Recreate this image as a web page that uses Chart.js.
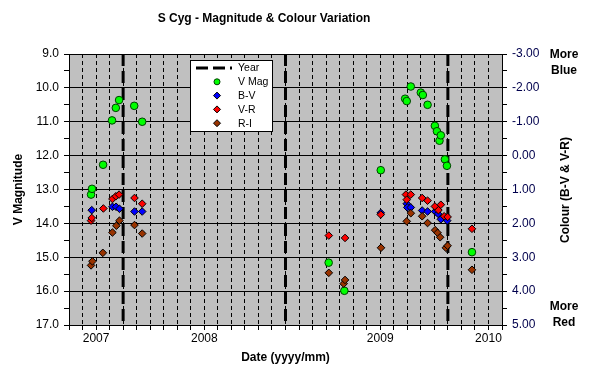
<!DOCTYPE html>
<html>
<head>
<meta charset="utf-8">
<script src="https://cdn.jsdelivr.net/npm/chart.js@4.4.0/dist/chart.umd.min.js"></script>
<style>
  html, body { margin: 0; padding: 0; background: #fff; }
  canvas { display: block; }
</style>
</head>
<body>
<canvas id="chart" width="592" height="375"></canvas>
<script>
// x values are months counted from Sep 2007 (0) to May 2010 (32)
const yearLines = [4, 16, 28];
const yearLabelPos = [2, 10, 23, 31];
const yearLabelText = ["2007", "2008", "2009", "2010"];

const vMagDate = [1.63, 1.70, 2.52, 3.18, 3.46, 3.70, 4.82, 5.41, 19.19, 20.35,
    23.04, 24.84, 24.96, 25.26, 26.00, 26.15, 26.50, 27.04, 27.19, 27.38, 27.48, 27.78, 27.93, 29.78];
const vMag = [13.15, 12.98, 12.27, 10.96, 10.59, 10.36, 10.53, 11.00, 15.16, 15.99,
    12.43, 10.32, 10.39, 9.96, 10.14, 10.21, 10.50, 11.12, 11.28, 11.56, 11.40, 12.11, 12.30, 14.85];

const bvDate = [1.68, 3.21, 3.48, 3.73, 4.84, 5.41, 23.04, 24.96, 25.00, 25.26,
    26.10, 26.50, 27.06, 27.28, 27.48, 27.95];
const bv = [1.61, 1.51, 1.51, 1.57, 1.65, 1.65, 1.69, 1.42, 1.53, 1.53,
    1.62, 1.65, 1.65, 1.72, 1.88, 1.92];

const vrDate = [1.63, 1.68, 2.54, 3.21, 3.46, 3.70, 4.84, 5.41, 19.20, 20.40, 23.04,
    24.90, 24.96, 25.26, 26.10, 26.50, 27.04, 27.30, 27.48, 27.73, 27.98, 29.78];
const vr = [1.92, 1.84, 1.56, 1.28, 1.20, 1.15, 1.25, 1.42, 2.36, 2.43, 1.74,
    1.15, 1.30, 1.15, 1.25, 1.33, 1.50, 1.61, 1.45, 1.79, 1.81, 2.16];

const riDate = [1.63, 1.73, 2.50, 3.21, 3.50, 3.73, 4.84, 5.41, 19.20, 20.30, 20.40, 23.06,
    24.96, 25.26, 26.10, 26.50, 27.06, 27.24, 27.43, 27.85, 27.98, 29.78];
const ri = [3.24, 3.12, 2.87, 2.27, 2.07, 1.92, 2.05, 2.30, 3.46, 3.78, 3.67, 2.72,
    1.94, 1.70, 1.79, 1.99, 2.20, 2.28, 2.41, 2.72, 2.66, 3.37];

const FONT = "'Liberation Sans', Arial, sans-serif";

const pts = (xs, ys) => xs.map((x, i) => ({ x: x, y: ys[i] }));

// vertical year lines, broken apart by null points
const yearData = [];
yearLines.forEach(x => {
    yearData.push({ x: x, y: 9 }, { x: x, y: 17 }, { x: x, y: null });
});

const diamond = (label, color, xs, ys, order) => ({
    label: label,
    data: pts(xs, ys),
    yAxisID: "y2",
    pointStyle: "rectRot",
    pointRadius: 3.8,
    pointHoverRadius: 3.8,
    pointBackgroundColor: color,
    pointBorderColor: "#000",
    pointBorderWidth: 1,
    order: order
});

const decor = {
    id: "decor",
    beforeDraw(chart) {
        const { ctx, chartArea: a } = chart;
        ctx.save();
        ctx.fillStyle = "#fff";
        ctx.fillRect(0, 0, chart.width, chart.height);
        ctx.fillStyle = "#c0c0c0";
        ctx.fillRect(a.left, a.top, a.right - a.left, a.bottom - a.top);
        ctx.restore();
    },
    afterDraw(chart) {
        const ctx = chart.ctx;
        ctx.save();
        ctx.fillStyle = "#000";
        ctx.textAlign = "center";
        ctx.textBaseline = "middle";

        // title
        ctx.font = "bold 12px " + FONT;
        ctx.fillText("S Cyg - Magnitude & Colour Variation", 264, 19);

        // right side notes
        ctx.fillText("More", 564, 55);
        ctx.fillText("Blue", 564, 71);
        ctx.fillText("More", 564, 307);
        ctx.fillText("Red", 564, 323);

        // right axis title, reading upwards
        ctx.save();
        ctx.translate(566, 190);
        ctx.rotate(-Math.PI / 2);
        ctx.fillText("Colour (B-V & V-R)", 0, 0);
        ctx.restore();

        // legend box
        ctx.fillStyle = "#fff";
        ctx.fillRect(190, 60, 82, 71);
        ctx.strokeStyle = "#000";
        ctx.lineWidth = 1;
        ctx.strokeRect(190.5, 60.5, 82, 71);

        ctx.font = "10.5px " + FONT;
        ctx.textAlign = "left";
        chart.data.datasets.forEach((ds, i) => {
            const y = 68 + i * 13.8;
            if (ds.showLine) {
                ctx.save();
                ctx.strokeStyle = ds.borderColor;
                ctx.lineWidth = ds.borderWidth;
                ctx.setLineDash(ds.borderDash);
                ctx.beginPath();
                ctx.moveTo(196, y);
                ctx.lineTo(232, y);
                ctx.stroke();
                ctx.restore();
            } else {
                ctx.fillStyle = ds.pointBackgroundColor;
                ctx.strokeStyle = ds.pointBorderColor;
                ctx.beginPath();
                if (ds.pointStyle === "circle") {
                    ctx.arc(217, y, 3, 0, Math.PI * 2);
                } else {
                    ctx.moveTo(217, y - 3.5);
                    ctx.lineTo(220.5, y);
                    ctx.lineTo(217, y + 3.5);
                    ctx.lineTo(213.5, y);
                    ctx.closePath();
                }
                ctx.fill();
                ctx.stroke();
            }
            ctx.fillStyle = "#000";
            ctx.fillText(ds.label, 238, y + 0.5);
        });
        ctx.restore();
    }
};

new Chart(document.getElementById("chart"), {
    type: "scatter",
    data: {
        datasets: [
            {
                label: "Year",
                data: yearData,
                showLine: true,
                spanGaps: false,
                borderColor: "#000",
                borderWidth: 3,
                borderDash: [12, 5],
                pointRadius: 0,
                pointHoverRadius: 0,
                order: 4
            },
            {
                label: "V Mag",
                data: pts(vMagDate, vMag),
                pointStyle: "circle",
                pointRadius: 3.8,
                pointHoverRadius: 3.8,
                pointBackgroundColor: "#00ff00",
                pointBorderColor: "#004000",
                pointBorderWidth: 1,
                order: 3
            },
            diamond("B-V", "#0000ff", bvDate, bv, 2),
            diamond("V-R", "#ff0000", vrDate, vr, 1),
            diamond("R-I", "#993300", riDate, ri, 0)
        ]
    },
    options: {
        responsive: false,
        animation: false,
        layout: { padding: { top: 54, left: 0, right: 0, bottom: 0 } },
        plugins: {
            legend: { display: false },
            title: { display: false },
            tooltip: { enabled: false }
        },
        scales: {
            x: {
                type: "linear",
                min: 0,
                max: 32,
                afterFit: s => { s.height = 50; },
                ticks: {
                    stepSize: 1,
                    autoSkip: false,
                    maxRotation: 0,
                    padding: 1,
                    color: "#000",
                    font: { family: FONT, size: 12 },
                    callback: v => {
                        const i = yearLabelPos.indexOf(v);
                        return i >= 0 ? yearLabelText[i] : "";
                    }
                },
                grid: {
                    color: "#000",
                    lineWidth: 1,
                    tickLength: 5,
                    tickColor: "#000",
                    tickBorderDash: []
                },
                border: { color: "#000", width: 1, dash: [4, 3] },
                title: {
                    display: true,
                    text: "Date (yyyy/mm)",
                    color: "#000",
                    font: { family: FONT, size: 12, weight: "bold" },
                    padding: { top: 0, bottom: 10 }
                }
            },
            y: {
                position: "left",
                min: 9,
                max: 17,
                reverse: true,
                afterFit: s => { s.width = 69; },
                ticks: {
                    stepSize: 0.5,
                    autoSkip: false,
                    padding: 5,
                    color: "#000",
                    font: { family: FONT, size: 12 },
                    callback: v => Number.isInteger(v) ? v.toFixed(1) : ""
                },
                grid: {
                    color: c => Number.isInteger(c.tick && c.tick.value) ? "#000" : "rgba(0,0,0,0)",
                    lineWidth: 1,
                    tickLength: 5,
                    tickColor: "#000"
                },
                border: { color: "#000", width: 1 },
                title: {
                    display: true,
                    text: "V Magnitude",
                    color: "#000",
                    font: { family: FONT, size: 12, weight: "bold" },
                    padding: { top: 11, bottom: 0 }
                }
            },
            y2: {
                position: "right",
                min: -3,
                max: 5,
                reverse: true,
                afterFit: s => { s.width = 90; },
                ticks: {
                    stepSize: 0.5,
                    autoSkip: false,
                    padding: 5,
                    color: "#00004d",
                    font: { family: FONT, size: 12 },
                    callback: v => Number.isInteger(v) ? v.toFixed(2) : ""
                },
                grid: {
                    drawOnChartArea: false,
                    tickLength: 5,
                    tickColor: "#000"
                },
                border: { color: "#000", width: 1 }
            }
        }
    },
    plugins: [decor]
});
</script>
</body>
</html>
